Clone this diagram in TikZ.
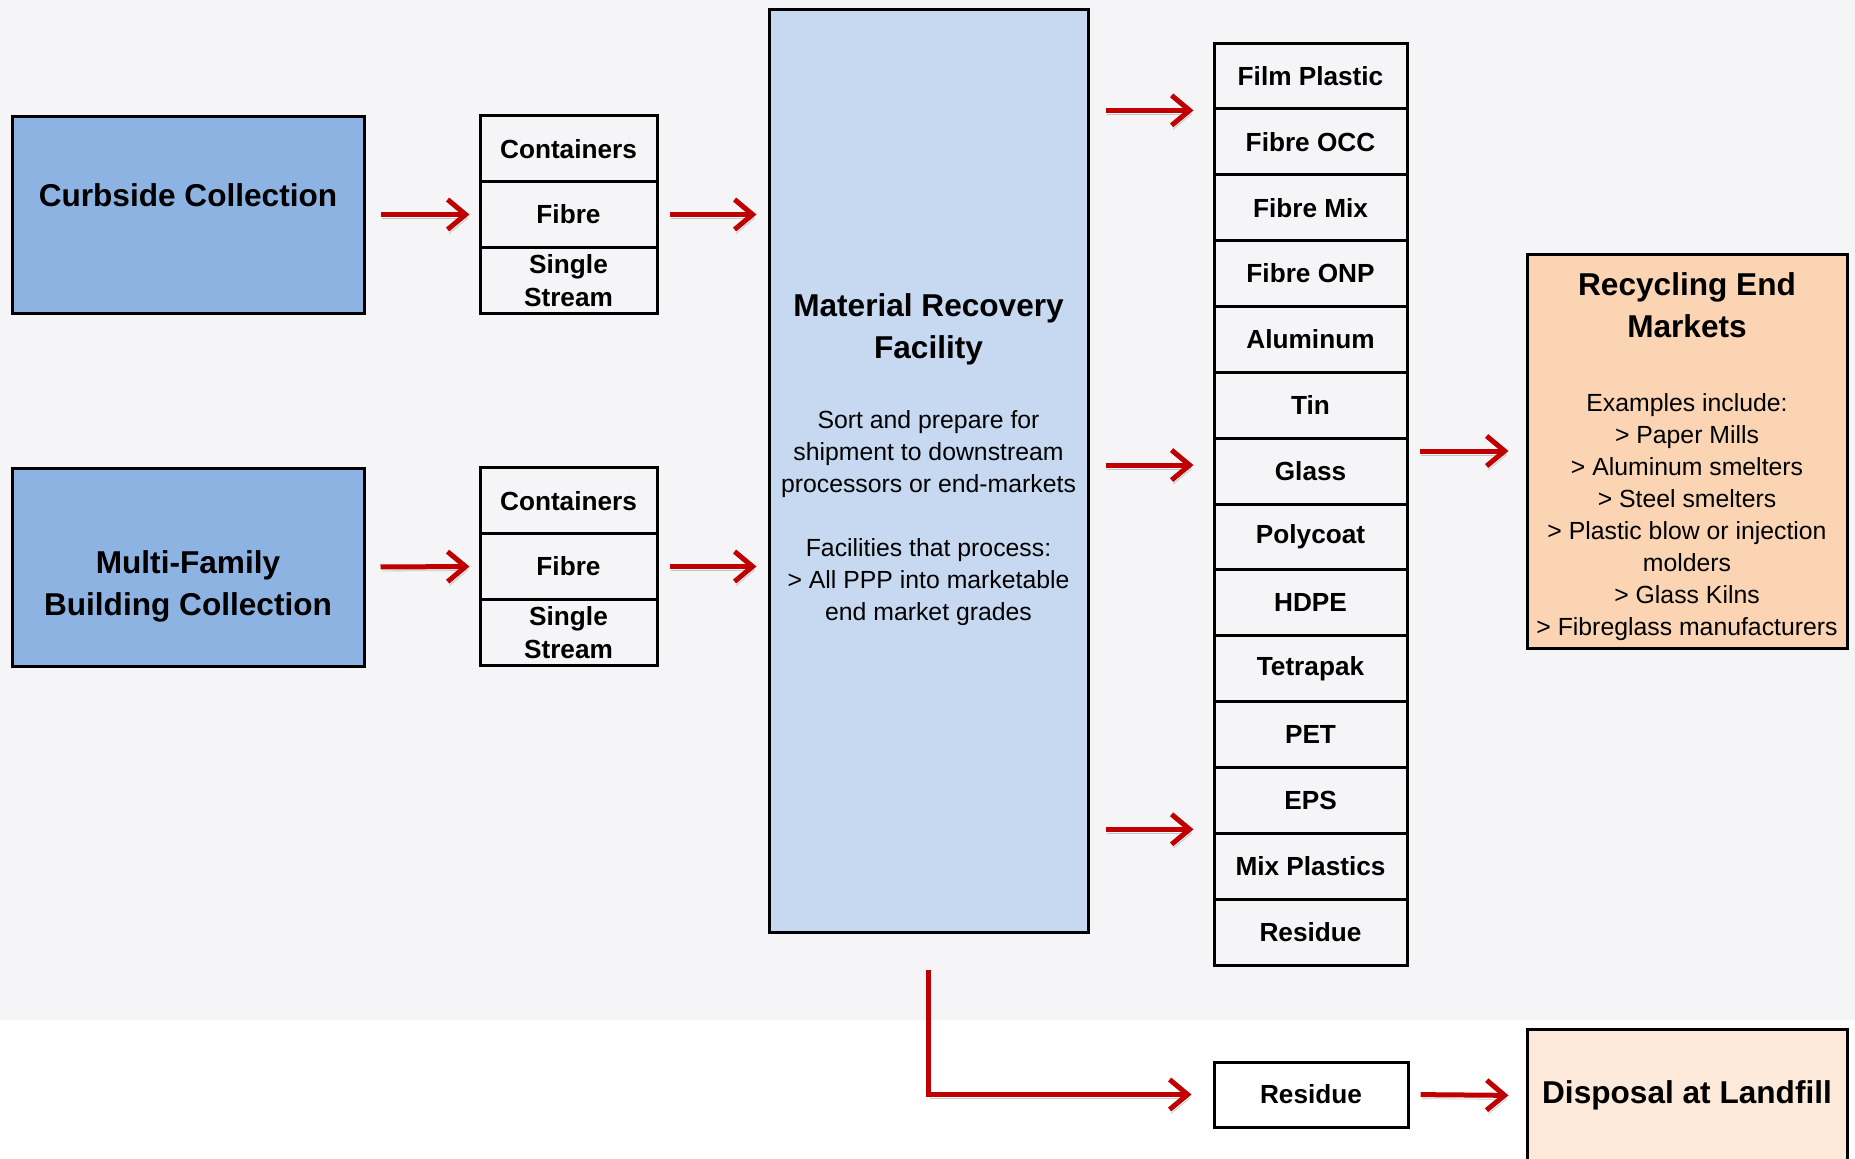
\documentclass[tikz,border=0pt]{standalone}
\usepackage{fontspec}
\setmainfont{Liberation Sans}
\usetikzlibrary{arrows.meta,calc}
\definecolor{bggrey}{HTML}{F5F5F7}
\definecolor{curbblue}{HTML}{8DB3E2}
\definecolor{mrfblue}{HTML}{C6D9F1}
\definecolor{peach}{HTML}{FBD4B4}
\definecolor{lightpeach}{HTML}{FDE9D9}
\definecolor{arrred}{HTML}{C00000}
\newcommand\ttlf{\bfseries\fontsize{15.8}{21}\selectfont}
\newcommand\itmf{\bfseries\fontsize{13.1}{16.5}\selectfont}
\newcommand\bdyf{\fontsize{12.4}{16}\selectfont}
\begin{document}
\begin{tikzpicture}[x=0.5pt,y=-0.5pt,
  box/.style={draw=black, line width=1.5pt, inner sep=0pt},
  ttl/.style={font=\ttlf, align=center, inner sep=0pt},
  bdy/.style={font=\bdyf, align=center, inner sep=0pt},
  item/.style={box, font=\itmf, minimum width=96.5pt, minimum height=32.93pt, align=center},
  stk/.style={box, font=\itmf, minimum width=88.5pt, minimum height=32.83pt, align=center},
  arr/.style={draw=arrred, line width=2.5pt, -{Straight Barb[length=9pt,width=15pt]},
    preaction={draw=black!45, opacity=0.45, transform canvas={xshift=0.8pt,yshift=-2pt}}}]
\useasboundingbox (0,0) rectangle (1855,1158);
\clip (0,0) rectangle (1855,1158);
\fill[white] (0,0) rectangle (1855,1158);
\fill[bggrey] (0,0) rectangle (1855,1020);

% collection boxes
\node[box, fill=curbblue, minimum width=176pt, minimum height=98.5pt] (curb) at (188,214.5) {};
\node[ttl] (curbtxt) at (188,195) {Curbside Collection};
\node[box, fill=curbblue, minimum width=176pt, minimum height=99pt] (multi) at (188,567) {};
\node[ttl, anchor=north] (multitxt) at (188,550.5) {Multi-Family\\Building Collection};

% stacks
\node[stk] (ccon) at (568.5,148.8) {Containers};
\node[stk] (cfib) at (568.5,214.5) {Fibre};
\node[stk] (csin) at (568.5,280.2) {Single\\Stream};
\node[stk] (mcon) at (568.5,500.8) {Containers};
\node[stk] (mfib) at (568.5,566.5) {Fibre};
\node[stk] (msin) at (568.5,632.2) {Single\\Stream};

% MRF
\node[box, fill=mrfblue, minimum width=159.5pt, minimum height=461.5pt] (mrf) at (928.5,470.5) {};
\node[ttl, anchor=north] (mrftitle) at (928.5,293.5) {Material Recovery\\Facility};
\node[bdy, anchor=north] (mrfbody) at (928.5,410) {Sort and prepare for\\shipment to downstream\\processors or end-markets\\[16pt]Facilities that process:\\> All PPP into marketable\\end market grades};

% list
\foreach \t [count=\i] in {Film Plastic,Fibre OCC,Fibre Mix,Fibre ONP,Aluminum,Tin,Glass,Polycoat,HDPE,Tetrapak,PET,EPS,Mix Plastics,Residue}
  \node[item] (l\i) at (1310.5,{43+65.86*(\i-0.5)}) {\t};

% end markets
\node[box, fill=peach, minimum width=160pt, minimum height=197pt] (rec) at (1687,451) {};
\node[ttl, anchor=north] (rectitle) at (1687,272.5) {Recycling End\\Markets};
\node[bdy, anchor=north] (recbody) at (1687,393) {Examples include:\\> Paper Mills\\> Aluminum smelters\\> Steel smelters\\> Plastic blow or injection\\molders\\> Glass Kilns\\> Fibreglass manufacturers};

% residue / landfill
\node[box, fill=white, font=\itmf, minimum width=97pt, minimum height=32.5pt] (resbot) at (1311,1094.5) {Residue};
\node[box, fill=lightpeach, font=\ttlf, minimum width=160pt, minimum height=66.5pt] (disp) at (1687,1095.5) {Disposal at Landfill};

% arrows
\draw[arr, shorten <=7.5pt, shorten >=4.5pt] (curb.east) -- (cfib.west);
\draw[arr, shorten <=5.5pt, shorten >=5.5pt] (cfib.east) -- (cfib.east -| mrf.west);
\draw[arr, shorten <=7.5pt, shorten >=4.5pt] (multi.east) -- (mfib.west);
\draw[arr, shorten <=5.5pt, shorten >=5.5pt] (mfib.east) -- (mfib.east -| mrf.west);
\draw[arr, shorten <=8pt, shorten >=9.5pt] (mrf.east |- l1.south west) -- (l1.south west);
\draw[arr, shorten <=8pt, shorten >=9.5pt] ([yshift=3pt]mrf.east |- l7.west) -- ([yshift=3pt]l7.west);
\draw[arr, shorten <=8pt, shorten >=9.5pt] ([yshift=2.75pt]mrf.east |- l12.south west) -- ([yshift=2.75pt]l12.south west);
\draw[arr, shorten <=5.5pt, shorten >=8.5pt] (l7.east |- rec.west) -- (rec.west);
\draw[arr, shorten >=10.5pt] ([yshift=-18pt]mrf.south) |- (resbot.west);
\draw[arr, shorten <=5.5pt, shorten >=8.5pt] (resbot.east) -- (disp.west);
\end{tikzpicture}
\end{document}
